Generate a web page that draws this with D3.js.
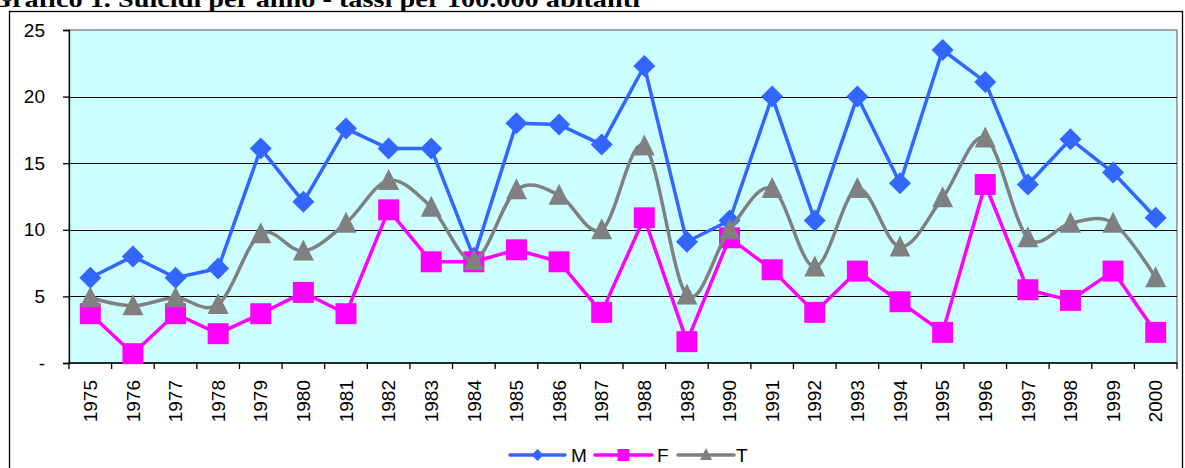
<!DOCTYPE html>
<html>
<head>
<meta charset="utf-8">
<script src="https://cdn.jsdelivr.net/npm/d3@7"></script>
<style>
  html, body { margin: 0; padding: 0; background: #fff; }
  svg { display: block; }
</style>
</head>
<body>
<svg id="chart" width="1185" height="468"></svg>
<script>
// Anni e tassi di suicidio per 100.000 abitanti
const years = ["1975","1976","1977","1978","1979","1980","1981","1982","1983","1984","1985","1986","1987",
               "1988","1989","1990","1991","1992","1993","1994","1995","1996","1997","1998","1999","2000"];
const valuesM = [6.4, 8.0, 6.4, 7.1, 16.1, 12.1, 17.6, 16.1, 16.1, 7.9, 18.0, 17.9, 16.4,
                 22.3, 9.1, 10.7, 20.0, 10.7, 20.0, 13.5, 23.5, 21.1, 13.4, 16.8, 14.3, 10.9];
const valuesF = [3.7, 0.7, 3.7, 2.2, 3.7, 5.3, 3.7, 11.5, 7.6, 7.6, 8.5, 7.6, 3.8,
                 10.9, 1.6, 9.4, 7.0, 3.8, 6.9, 4.6, 2.3, 13.4, 5.5, 4.7, 6.9, 2.3];
const valuesT = [4.9, 4.3, 4.9, 4.4, 9.7, 8.4, 10.5, 13.7, 11.7, 7.7, 13.0, 12.6, 10.0,
                 16.3, 5.1, 10.0, 13.1, 7.2, 13.1, 8.7, 12.4, 16.9, 9.4, 10.5, 10.5, 6.4];
const yTicks = [0, 5, 10, 15, 20, 25];
const seriesNames = ["M", "F", "T"];
const titleText = "Grafico 1. Suicidi per anno - tassi per 100.000 abitanti";

const svg = d3.select("#chart");
const font = "'Liberation Sans', Arial, sans-serif";

const plot = { left: 69, right: 1177, top: 30, bottom: 363 };

const x = d3.scaleBand().domain(years).range([plot.left, plot.right]);
const y = d3.scaleLinear().domain([0, 25]).range([plot.bottom, plot.top]);
const cx = d => x(d) + x.bandwidth() / 2;

// Title (bold serif, runs past the top and left edges of the page)
svg.append("text")
  .attr("x", -10).attr("y", 7)
  .attr("text-anchor", "start")
  .attr("textLength", 650)
  .attr("lengthAdjust", "spacingAndGlyphs")
  .attr("font-family", "'Liberation Serif', 'Times New Roman', serif")
  .attr("font-weight", "bold")
  .attr("font-size", 24)
  .attr("fill", "#000")
  .text(titleText);

// Chart area frame
svg.append("rect")
  .attr("x", 9.5).attr("y", 11.5)
  .attr("width", 1173).attr("height", 470)
  .attr("fill", "none").attr("stroke", "#000").attr("stroke-width", 1.3);

// Plot area
svg.append("rect")
  .attr("x", plot.left).attr("y", plot.top)
  .attr("width", plot.right - plot.left).attr("height", plot.bottom - plot.top)
  .attr("fill", "#CCFFFF")
  .attr("stroke", "#8c8c8c").attr("stroke-width", 1.5);

// Horizontal gridlines
svg.append("g").selectAll("line")
  .data(yTicks.filter(t => t > 0 && t < 25))
  .join("line")
  .attr("x1", plot.left).attr("x2", plot.right)
  .attr("y1", d => Math.round(y(d)) + 0.5).attr("y2", d => Math.round(y(d)) + 0.5)
  .attr("stroke", "#000").attr("stroke-width", 1);

// Y axis
const yAxis = d3.axisLeft(y)
  .tickValues(yTicks)
  .tickSize(6)
  .tickPadding(18)
  .tickFormat(d => d === 0 ? "-" : String(d));
const gy = svg.append("g")
  .attr("transform", `translate(${plot.left},0)`)
  .call(yAxis);
gy.select(".domain").attr("stroke", "#000").attr("stroke-width", 1.3);
gy.selectAll(".tick line").attr("stroke", "#000").attr("stroke-width", 1.3);
gy.selectAll(".tick text")
  .attr("font-family", font).attr("font-size", 19).attr("fill", "#000");

// X axis: baseline, boundary ticks, rotated year labels
const gx = svg.append("g");
gx.append("line")
  .attr("x1", plot.left).attr("x2", plot.right)
  .attr("y1", plot.bottom).attr("y2", plot.bottom)
  .attr("stroke", "#000").attr("stroke-width", 1.3);
const boundaries = years.map(d => x(d)).concat([x(years[years.length - 1]) + x.bandwidth()]);
gx.selectAll("line.tick")
  .data(boundaries)
  .join("line")
  .attr("class", "tick")
  .attr("x1", d => d).attr("x2", d => d)
  .attr("y1", plot.bottom).attr("y2", plot.bottom + 6)
  .attr("stroke", "#000").attr("stroke-width", 1.3);
gx.selectAll("text")
  .data(years)
  .join("text")
  .attr("transform", d => `translate(${cx(d)},380) rotate(-90)`)
  .attr("dy", "0.35em")
  .attr("text-anchor", "end")
  .attr("font-family", font).attr("font-size", 19).attr("fill", "#000")
  .text(d => d);

// Marker shapes
function markerPath(shape, s) {
  const h = s / 2;
  if (shape === "diamond") return `M0,${-h}L${h},0L0,${h}L${-h},0Z`;
  if (shape === "square") return `M${-h},${-h}H${h}V${h}H${-h}Z`;
  return `M0,${-h - 1}L${h},${h - 1}L${-h},${h - 1}Z`;
}

const series = [
  { name: seriesNames[0], values: valuesM, color: "#3366FF", shape: "diamond", size: 22, curve: d3.curveLinear },
  { name: seriesNames[1], values: valuesF, color: "#FF00FF", shape: "square", size: 21, curve: d3.curveLinear },
  { name: seriesNames[2], values: valuesT, color: "#808080", shape: "triangle", size: 21, curve: d3.curveCatmullRom.alpha(0) }
];

series.forEach(s => {
  const pts = years.map((yr, i) => ({ yr, v: s.values[i] }));
  const line = d3.line().x(d => cx(d.yr)).y(d => y(d.v)).curve(s.curve);
  const g = svg.append("g");
  g.append("path")
    .attr("d", line(pts))
    .attr("fill", "none")
    .attr("stroke", s.color)
    .attr("stroke-width", 3.5)
    .attr("stroke-linejoin", "round");
  g.selectAll("path.mk")
    .data(pts)
    .join("path")
    .attr("class", "mk")
    .attr("transform", d => `translate(${cx(d.yr)},${y(d.v)})`)
    .attr("d", markerPath(s.shape, s.size))
    .attr("fill", s.color);
});

// Legend
const legendY = 455;
const legendItems = [
  { x0: 510, x1: 565, tx: 571 },
  { x0: 595, x1: 652, tx: 657 },
  { x0: 678, x1: 734, tx: 736 }
];
const lg = svg.append("g");
series.forEach((s, i) => {
  const it = legendItems[i];
  lg.append("line")
    .attr("x1", it.x0).attr("x2", it.x1)
    .attr("y1", legendY).attr("y2", legendY)
    .attr("stroke", s.color).attr("stroke-width", 3.5).attr("stroke-linecap", "round");
  lg.append("path")
    .attr("transform", `translate(${(it.x0 + it.x1) / 2},${legendY})`)
    .attr("d", markerPath(s.shape, 12))
    .attr("fill", s.color);
  lg.append("text")
    .attr("x", it.tx).attr("y", legendY)
    .attr("dy", "0.35em")
    .attr("font-family", font).attr("font-size", 19).attr("fill", "#000")
    .text(s.name);
});
</script>
</body>
</html>
